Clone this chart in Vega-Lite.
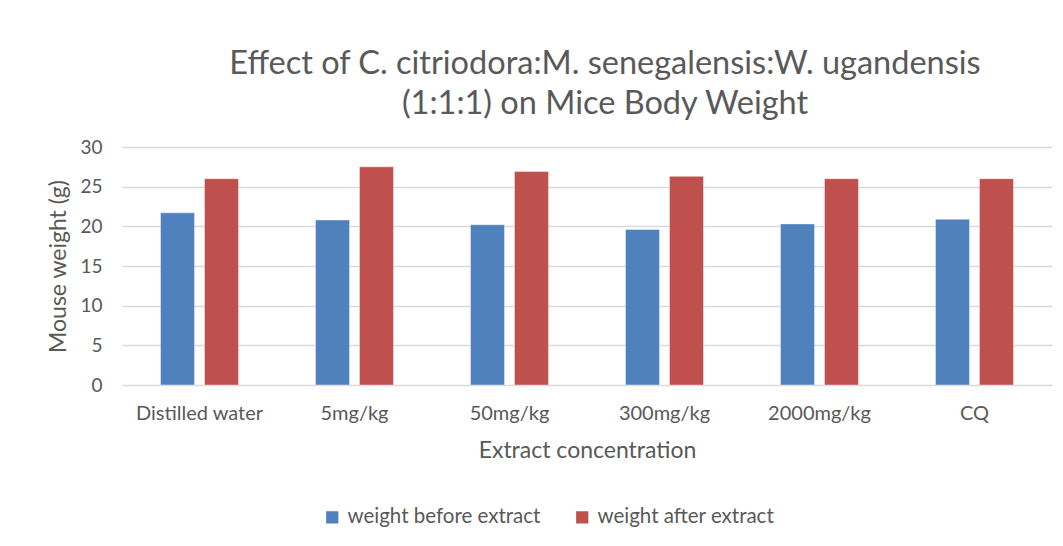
{
  "$schema": "https://vega.github.io/schema/vega-lite/v6.json",
  "autosize": {"type": "none"},
  "width": 930,
  "height": 238,
  "padding": {"left": 122, "top": 147, "right": 11, "bottom": 161},
  "background": "white",
  "title": {
    "text": ["Effect of C. citriodora:M. senegalensis:W. ugandensis", "(1:1:1) on Mice Body Weight"],
    "font": "Lato",
    "fontSize": 32.5,
    "fontWeight": "normal",
    "color": "#595959",
    "lineHeight": 40,
    "anchor": "middle",
    "dx": 18,
    "offset": 18
  },
  "data": {
    "values": [
      {"concentration": "Distilled water", "series": "weight before extract", "weight": 21.7},
      {"concentration": "Distilled water", "series": "weight after extract", "weight": 26.0},
      {"concentration": "5mg/kg", "series": "weight before extract", "weight": 20.8},
      {"concentration": "5mg/kg", "series": "weight after extract", "weight": 27.5},
      {"concentration": "50mg/kg", "series": "weight before extract", "weight": 20.2},
      {"concentration": "50mg/kg", "series": "weight after extract", "weight": 26.9},
      {"concentration": "300mg/kg", "series": "weight before extract", "weight": 19.6},
      {"concentration": "300mg/kg", "series": "weight after extract", "weight": 26.3},
      {"concentration": "2000mg/kg", "series": "weight before extract", "weight": 20.3},
      {"concentration": "2000mg/kg", "series": "weight after extract", "weight": 26.0},
      {"concentration": "CQ", "series": "weight before extract", "weight": 20.9},
      {"concentration": "CQ", "series": "weight after extract", "weight": 26.0}
    ]
  },
  "mark": {"type": "bar", "stroke": "#ffffff", "strokeOpacity": 0.5, "strokeWidth": 0.8},
  "encoding": {
    "x": {
      "field": "concentration",
      "type": "nominal",
      "sort": null,
      "scale": {"paddingInner": 0.497, "paddingOuter": 0.2485},
      "axis": {
        "title": "Extract concentration",
        "labelAngle": 0,
        "labelFontSize": 20,
        "labelPadding": 18,
        "titlePadding": 16,
        "ticks": false,
        "domain": false
      }
    },
    "xOffset": {
      "field": "series",
      "type": "nominal",
      "sort": ["weight before extract", "weight after extract"],
      "scale": {"paddingInner": 0.227, "paddingOuter": 0}
    },
    "y": {
      "field": "weight",
      "type": "quantitative",
      "scale": {"domain": [0, 30]},
      "axis": {
        "title": "Mouse weight (g)",
        "values": [0, 5, 10, 15, 20, 25, 30],
        "ticks": false,
        "domain": false,
        "labelFontSize": 19,
        "labelPadding": 20,
        "titlePadding": 9,
        "grid": true
      }
    },
    "color": {
      "field": "series",
      "type": "nominal",
      "sort": ["weight before extract", "weight after extract"],
      "scale": {"domain": ["weight before extract", "weight after extract"], "range": ["#4F81BD", "#C0504D"]},
      "legend": {
        "title": null,
        "orient": "none",
        "direction": "horizontal",
        "legendX": 200,
        "legendY": 360,
        "symbolType": "square",
        "symbolSize": 150,
        "symbolStrokeWidth": 0,
        "labelFontSize": 20.5,
        "labelLimit": 400,
        "labelOffset": 5,
        "columnPadding": 31
      }
    }
  },
  "config": {
    "font": "Lato",
    "view": {"stroke": null},
    "axis": {
      "labelFont": "Lato",
      "titleFont": "Lato",
      "labelColor": "#595959",
      "titleColor": "#595959",
      "titleFontSize": 23,
      "titleFontWeight": "normal",
      "gridColor": "#D9D9D9",
      "gridWidth": 1.5
    },
    "legend": {"labelFont": "Lato", "labelColor": "#595959"}
  }
}
